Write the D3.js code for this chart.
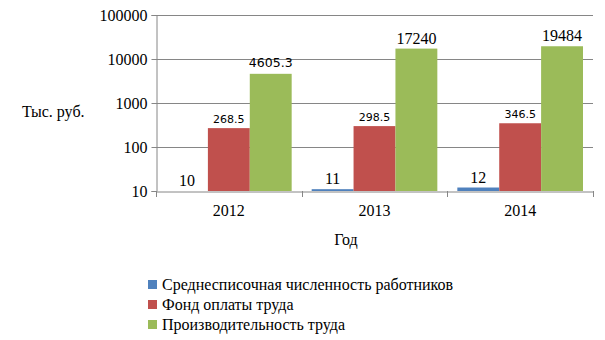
<!DOCTYPE html>
<html>
<head>
<meta charset="utf-8">
<script src="https://cdn.jsdelivr.net/npm/d3@7"></script>
<style>
  html, body { margin: 0; padding: 0; background: #fff; }
</style>
</head>
<body>
<svg id="chart" width="605" height="340"></svg>
<script>
// Годы и показатели
const years = ["2012", "2013", "2014"];
const seriesNames = [
  "Среднесписочная численность работников",
  "Фонд оплаты труда",
  "Производительность труда"
];
const headcount = [10, 11, 12];
const payroll = [268.5, 298.5, 346.5];
const productivity = [4605.3, 17240, 19484];
const yTicks = [10, 100, 1000, 10000, 100000];
const colors = ["#4F81BD", "#C0504D", "#9BBB59"];

const seriesValues = [headcount, payroll, productivity];
const SERIF = "'Liberation Serif', 'Times New Roman', serif";
const SANS = "'DejaVu Sans', Verdana, sans-serif";

const svg = d3.select("#chart");
const plot = { left: 156, right: 593, top: 15, bottom: 191 };

const x = d3.scaleBand().domain(years).range([plot.left, plot.right]).paddingInner(0).paddingOuter(0);
const xs = d3.scaleBand().domain(d3.range(seriesNames.length))
  .range([10, x.bandwidth() - 10]);
const y = d3.scaleLog().domain([10, 100000]).range([plot.bottom, plot.top]);

// Горизонтальные линии сетки
svg.append("g").selectAll("line").data(yTicks.slice(1)).join("line")
  .attr("x1", plot.left).attr("x2", plot.right)
  .attr("y1", d => Math.round(y(d)) + 0.5).attr("y2", d => Math.round(y(d)) + 0.5)
  .attr("stroke", "#868686").attr("stroke-width", 1);

// Ось Y
const yAxis = svg.append("g").attr("transform", `translate(${plot.left + 0.5},0)`)
  .call(d3.axisLeft(y).tickValues(yTicks).tickFormat(d3.format("d")).tickSize(5).tickPadding(4));
yAxis.select(".domain").attr("stroke", "#868686");
yAxis.selectAll(".tick line").attr("stroke", "#868686");
yAxis.selectAll(".tick text").style("font-size", "16px").style("font-family", SERIF).attr("fill", "#000");

// Столбцы
const groups = svg.append("g").selectAll("g").data(years).join("g")
  .attr("transform", d => `translate(${x(d)},0)`);

groups.each(function (yr, i) {
  const g = d3.select(this);
  seriesValues.forEach((vals, s) => {
    const v = vals[i];
    g.append("rect")
      .attr("x", xs(s)).attr("width", xs.bandwidth())
      .attr("y", y(v)).attr("height", y(10) - y(v))
      .attr("fill", colors[s]);
  });
});

// Подписи значений
groups.each(function (yr, i) {
  const g = d3.select(this);
  seriesValues.forEach((vals, s) => {
    const v = vals[i];
    let font = SERIF, size = 16, gap = 5;
    if (s === 1) { font = SANS; size = 11; gap = 5; }
    if (s === 2 && i === 0) { font = SANS; size = 12.5; gap = 7; }
    g.append("text")
      .attr("x", xs(s) + xs.bandwidth() / 2)
      .attr("y", y(v) - gap)
      .attr("text-anchor", "middle")
      .style("font-family", font)
      .style("font-size", size + "px")
      .attr("fill", "#000")
      .text(String(v));
  });
});

// Ось X
const xAxis = svg.append("g").attr("transform", `translate(0,${plot.bottom + 0.5})`)
  .call(d3.axisBottom(x).tickSize(0).tickPadding(13));
xAxis.select(".domain").attr("stroke", "#868686");
xAxis.selectAll(".tick text").style("font-size", "16px").style("font-family", SERIF).attr("fill", "#000");
svg.append("g").selectAll("line").data([plot.left, ...years.map(d => x(d) + x.bandwidth())]).join("line")
  .attr("x1", d => Math.round(d) + 0.5).attr("x2", d => Math.round(d) + 0.5)
  .attr("y1", plot.bottom).attr("y2", plot.bottom + 6)
  .attr("stroke", "#868686");

// Названия осей
svg.append("text").attr("x", 22).attr("y", 117)
  .style("font-family", SERIF).style("font-size", "16px").text("Тыс. руб.");
svg.append("text").attr("x", 346).attr("y", 245).attr("text-anchor", "middle")
  .style("font-family", SERIF).style("font-size", "16px").text("Год");

// Легенда
const legend = svg.append("g").selectAll("g").data(seriesNames).join("g")
  .attr("transform", (d, i) => `translate(148,${280 + i * 20})`);
legend.append("rect").attr("width", 9).attr("height", 9).attr("y", 0).attr("fill", (d, i) => colors[i]);
legend.append("text").attr("x", 14).attr("y", 10)
  .style("font-family", SERIF).style("font-size", "16px").text(d => d);
</script>
</body>
</html>
